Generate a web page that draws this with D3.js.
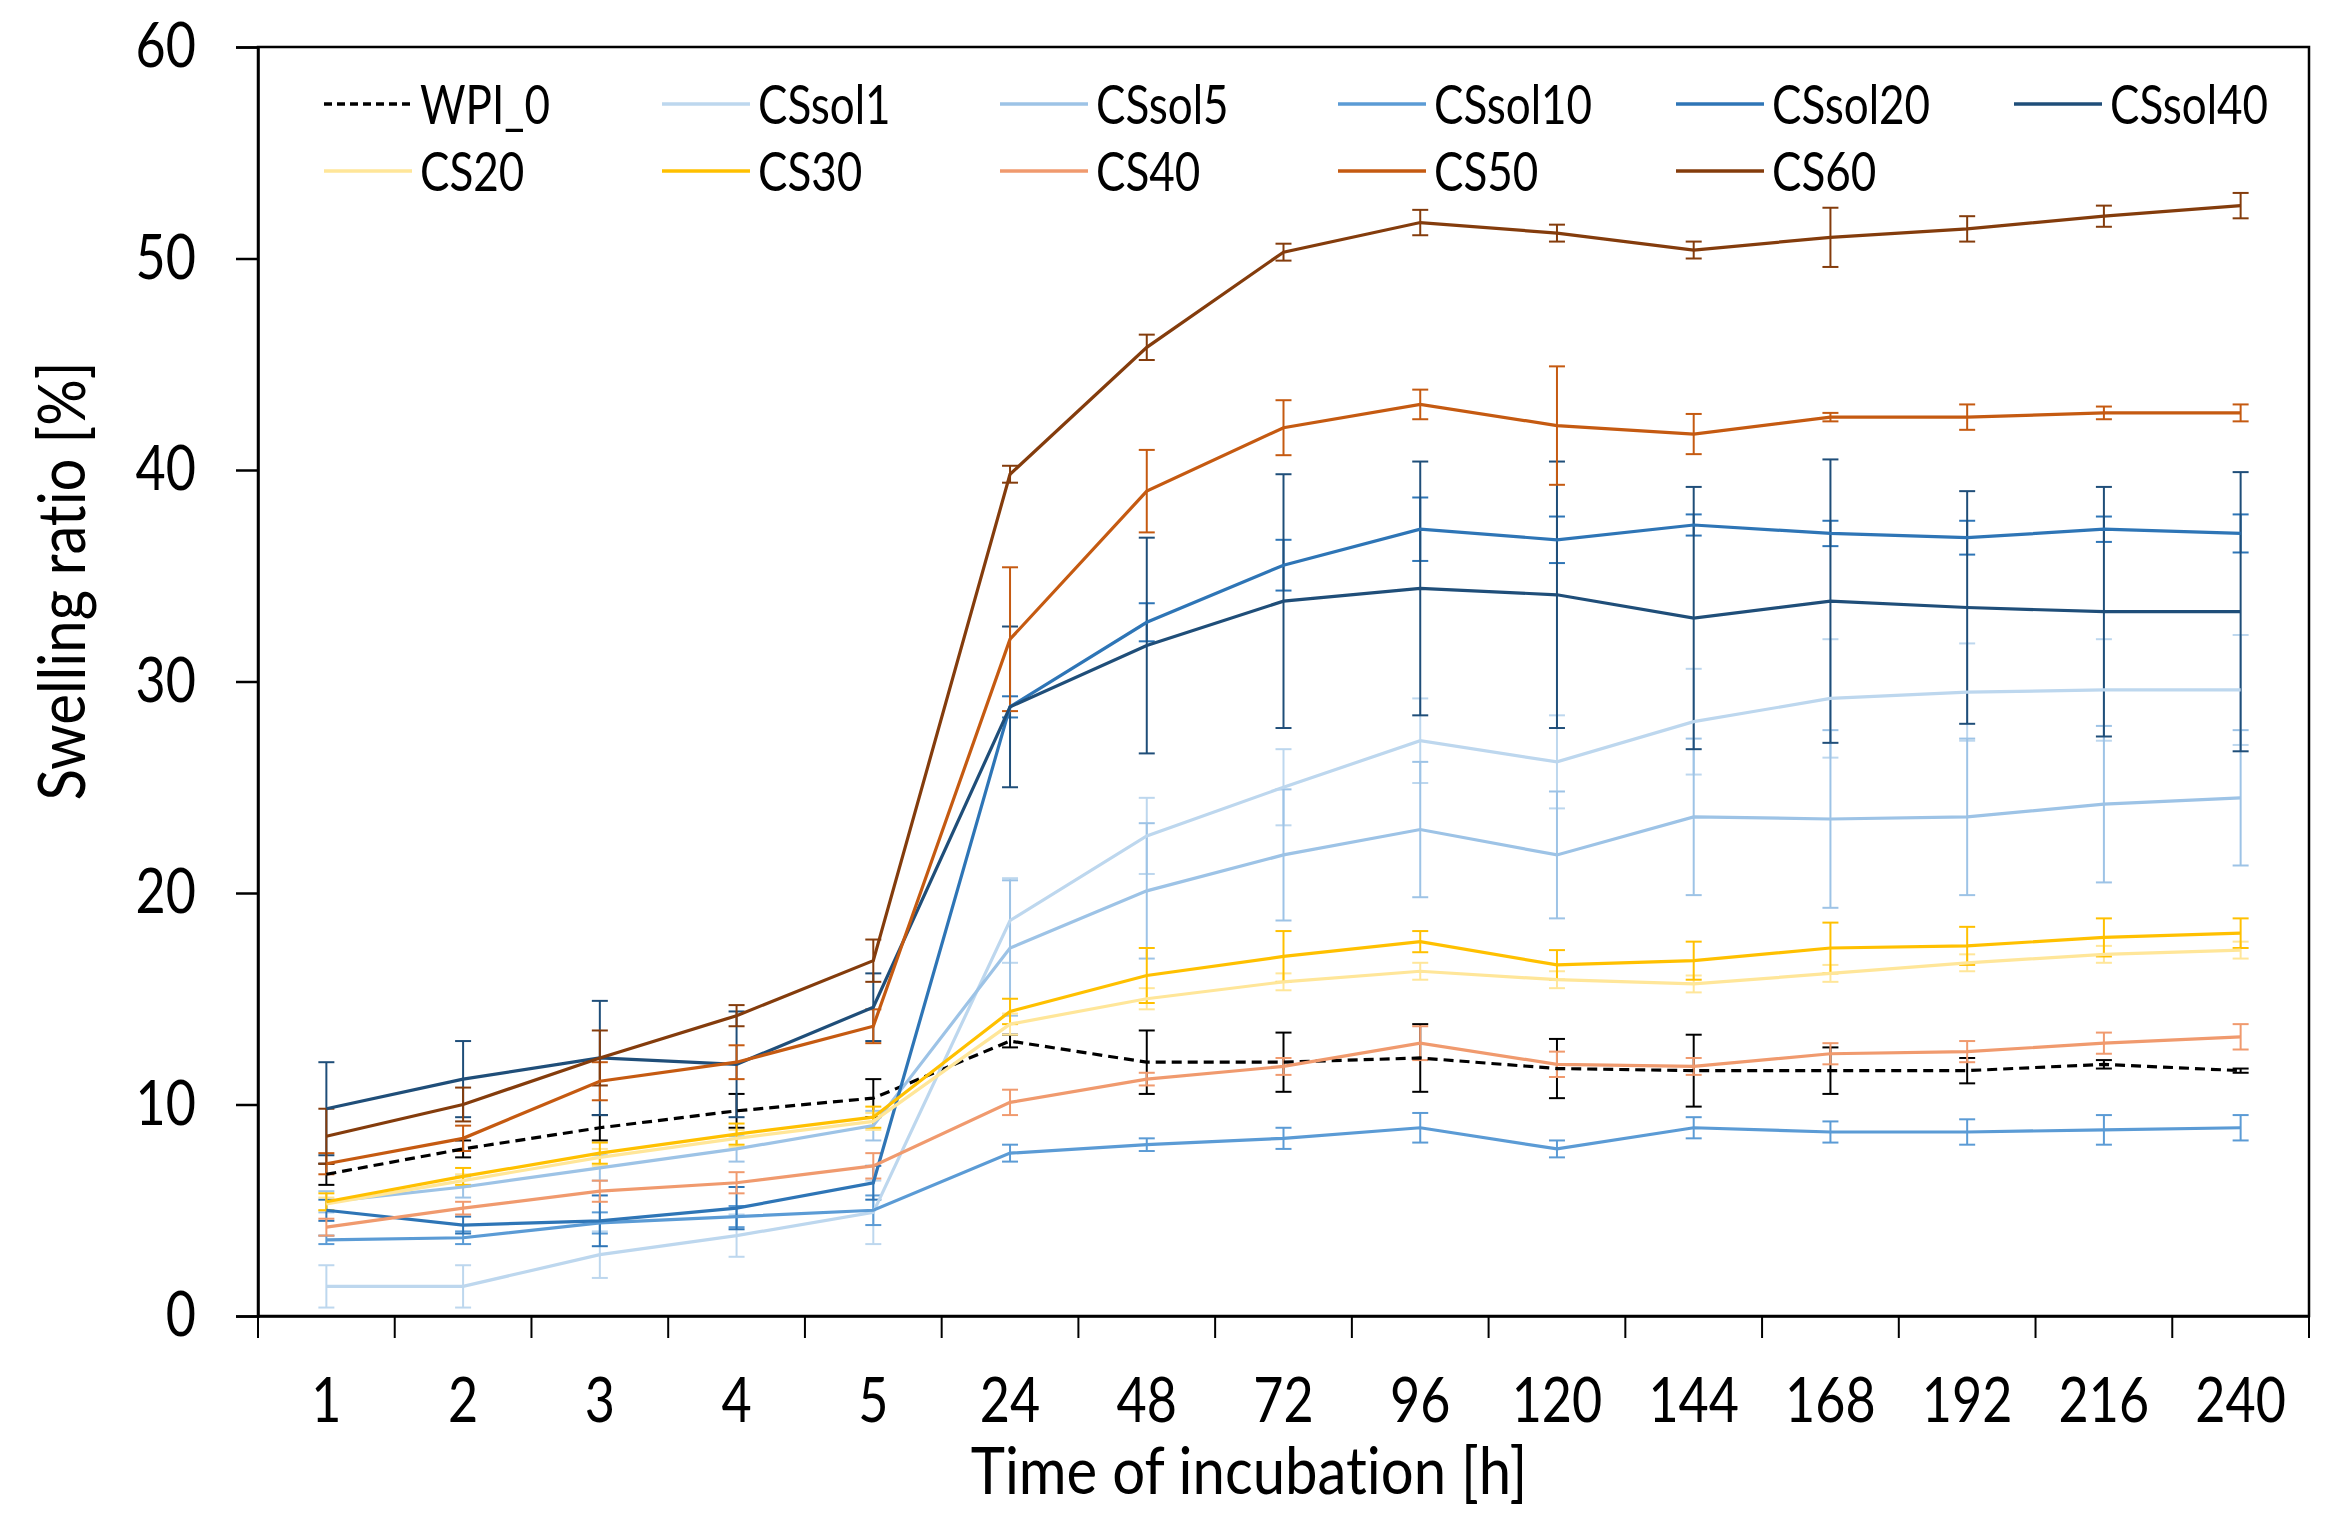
<!DOCTYPE html>
<html>
<head>
<meta charset="utf-8">
<script src="https://cdn.jsdelivr.net/npm/d3@7"></script>
<style>
  body { margin: 0; background: #fff; }
  text { font-family: Lato, "Open Sans", sans-serif; fill: #000; font-variant-ligatures: none; font-feature-settings: "liga" 0, "clig" 0; }
</style>
</head>
<body>
<div id="chart"></div>
<script>
// x categories (time of incubation, h)
const hours = ["1", "2", "3", "4", "5", "24", "48", "72", "96", "120", "144", "168", "192", "216", "240"];
const yTicks = [0, 10, 20, 30, 40, 50, 60];

// series values (swelling ratio %) and their error bars
const names = ["WPI_0", "CSsol1", "CSsol5", "CSsol10", "CSsol20", "CSsol40", "CS20", "CS30", "CS40", "CS50", "CS60"];

const wpi0 = [6.7, 7.9, 8.9, 9.7, 10.3, 13.0, 12.0, 12.0, 12.2, 11.7, 11.6, 11.6, 11.6, 11.9, 11.6];
const wpi0Err = [0.5, 0.4, 0.6, 0.8, 0.9, 0.3, 1.5, 1.4, 1.6, 1.4, 1.7, 1.1, 0.6, 0.2, 0.1];
const cssol1 = [1.4, 1.4, 2.9, 3.8, 4.9, 18.7, 22.7, 25.0, 27.2, 26.2, 28.1, 29.2, 29.5, 29.6, 29.6];
const cssol1Err = [1.0, 1.0, 1.1, 1.0, 1.5, 2.0, 1.8, 1.8, 2.0, 2.2, 2.5, 2.8, 2.3, 2.4, 2.6];
const cssol5 = [5.4, 6.1, 7.0, 7.9, 9.0, 17.4, 20.1, 21.8, 23.0, 21.8, 23.6, 23.5, 23.6, 24.2, 24.5];
const cssol5Err = [0.5, 0.5, 0.6, 0.6, 0.7, 3.2, 3.2, 3.1, 3.2, 3.0, 3.7, 4.2, 3.7, 3.7, 3.2];
const cssol10 = [3.6, 3.7, 4.4, 4.7, 5.0, 7.7, 8.1, 8.4, 8.9, 7.9, 8.9, 8.7, 8.7, 8.8, 8.9];
const cssol10Err = [0.2, 0.3, 0.5, 0.5, 0.7, 0.4, 0.3, 0.5, 0.7, 0.4, 0.5, 0.5, 0.6, 0.7, 0.6];
const cssol20 = [5.0, 4.3, 4.5, 5.1, 6.3, 28.8, 32.8, 35.5, 37.2, 36.7, 37.4, 37.0, 36.8, 37.2, 37.0];
const cssol20Err = [0.5, 0.4, 1.2, 1.0, 0.8, 0.5, 0.9, 1.2, 1.5, 1.1, 0.5, 0.6, 0.8, 0.6, 0.9];
const cssol40 = [9.8, 11.2, 12.2, 11.9, 14.6, 28.8, 31.7, 33.8, 34.4, 34.1, 33.0, 33.8, 33.5, 33.3, 33.3];
const cssol40Err = [2.2, 1.8, 2.7, 2.5, 1.6, 3.8, 5.1, 6.0, 6.0, 6.3, 6.2, 6.7, 5.5, 5.9, 6.6];
const cs20 = [5.3, 6.4, 7.5, 8.4, 9.2, 13.8, 15.0, 15.8, 16.3, 15.9, 15.7, 16.2, 16.7, 17.1, 17.3];
const cs20Err = [0.3, 0.3, 0.4, 0.4, 0.4, 0.5, 0.5, 0.4, 0.4, 0.4, 0.4, 0.4, 0.4, 0.4, 0.4];
const cs30 = [5.4, 6.6, 7.7, 8.6, 9.4, 14.4, 16.1, 17.0, 17.7, 16.6, 16.8, 17.4, 17.5, 17.9, 18.1];
const cs30Err = [0.4, 0.4, 0.5, 0.5, 0.5, 0.6, 1.3, 1.2, 0.5, 0.7, 0.9, 1.2, 0.9, 0.9, 0.7];
const cs40 = [4.2, 5.1, 5.9, 6.3, 7.1, 10.1, 11.2, 11.8, 12.9, 11.9, 11.8, 12.4, 12.5, 12.9, 13.2];
const cs40Err = [0.4, 0.3, 0.5, 0.5, 0.6, 0.6, 0.3, 0.4, 0.8, 0.6, 0.4, 0.5, 0.5, 0.5, 0.6];
const cs50 = [7.2, 8.4, 11.1, 12.0, 13.7, 32.0, 39.0, 42.0, 43.1, 42.1, 41.7, 42.5, 42.5, 42.7, 42.7];
const cs50Err = [0.5, 0.6, 0.9, 0.8, 0.8, 3.4, 1.95, 1.3, 0.7, 2.8, 0.95, 0.2, 0.6, 0.3, 0.4];
const cs60 = [8.5, 10.0, 12.2, 14.2, 16.8, 39.8, 45.8, 50.3, 51.7, 51.2, 50.4, 51.0, 51.4, 52.0, 52.5];
const cs60Err = [1.3, 0.8, 1.3, 0.5, 1.0, 0.4, 0.6, 0.4, 0.6, 0.4, 0.4, 1.4, 0.6, 0.5, 0.6];

const values = [wpi0, cssol1, cssol5, cssol10, cssol20, cssol40, cs20, cs30, cs40, cs50, cs60];
const errors = [wpi0Err, cssol1Err, cssol5Err, cssol10Err, cssol20Err, cssol40Err, cs20Err, cs30Err, cs40Err, cs50Err, cs60Err];
const colors = ["#000000", "#BDD7EE", "#9DC3E6", "#5B9BD5", "#2E75B6", "#1F4E79",
                "#FFE699", "#FFC000", "#F09A6E", "#C55A11", "#843C0C"];

const margin = {top: 47, right: 42, bottom: 210, left: 258},
      width = 2351 - margin.left - margin.right,
      height = 1526 - margin.top - margin.bottom;

// the original font is tall and narrow, squeeze glyphs horizontally
const squeeze = (sel, k) => sel.each(function() {
    const t = d3.select(this),
          x0 = +t.attr("x") || 0,
          base = t.attr("data-rot") || "";
    t.attr("x", x0 / k).attr("transform", `${base} scale(${k},1)`);
});

const svg = d3.select("#chart")
    .append("svg")
    .attr("width", 2351)
    .attr("height", 1526)
    .append("g")
    .attr("transform", `translate(${margin.left},${margin.top})`);

const x = d3.scaleBand()
    .domain(hours)
    .range([0, width]);

const y = d3.scaleLinear()
    .domain([0, 60])
    .range([height, 0]);

// plot frame
svg.append("rect")
    .attr("x", 0).attr("y", 0)
    .attr("width", width).attr("height", height)
    .attr("fill", "none")
    .attr("stroke", "#000")
    .attr("stroke-width", 2.5);

// y axis
const yAxis = svg.append("g")
    .call(d3.axisLeft(y).tickValues(yTicks).tickSize(22).tickPadding(40));
yAxis.select(".domain").attr("stroke-width", 2.5);
yAxis.selectAll(".tick line").attr("stroke-width", 2.5);
yAxis.selectAll("text").style("font-size", "62px").call(squeeze, 0.84);

// x axis: labels centred in bands, ticks on band edges
const xAxis = svg.append("g")
    .attr("transform", `translate(0,${height})`)
    .call(d3.axisBottom(x).tickSize(0).tickPadding(62));
xAxis.select(".domain").attr("stroke-width", 2.5);
xAxis.selectAll("text").style("font-size", "62px").call(squeeze, 0.84);

xAxis.selectAll(".edge")
    .data(hours.map(h => x(h)).concat([width]))
    .enter()
    .append("line")
    .attr("x1", d => d).attr("x2", d => d)
    .attr("y1", 0).attr("y2", 22)
    .attr("stroke", "#000")
    .attr("stroke-width", 2);

// axis titles
svg.append("text")
    .attr("data-rot", `translate(991,${height + 178})`)
    .attr("text-anchor", "middle")
    .style("font-size", "66px")
    .text("Time of incubation [h]")
    .call(squeeze, 0.88);

svg.append("text")
    .attr("data-rot", "translate(-173,534) rotate(-90)")
    .attr("text-anchor", "middle")
    .style("font-size", "66px")
    .text("Swelling ratio [%]")
    .call(squeeze, 0.88);

const cx = i => x(hours[i]) + x.bandwidth() / 2;

const line = d3.line()
    .x((d, i) => cx(i))
    .y(d => y(d));

// error bars first, lines on top
names.forEach((name, k) => {
    const g = svg.append("g");
    values[k].forEach((v, i) => {
        const e = errors[k][i];
        g.append("line")
            .attr("x1", cx(i)).attr("x2", cx(i))
            .attr("y1", y(v - e)).attr("y2", y(v + e))
            .attr("stroke", colors[k]).attr("stroke-width", 2);
        [v - e, v + e].forEach(t => {
            g.append("line")
                .attr("x1", cx(i) - 8).attr("x2", cx(i) + 8)
                .attr("y1", y(t)).attr("y2", y(t))
                .attr("stroke", colors[k]).attr("stroke-width", 2);
        });
    });
});

names.forEach((name, k) => {
    svg.append("path")
        .datum(values[k])
        .attr("fill", "none")
        .attr("stroke", colors[k])
        .attr("stroke-width", 3.2)
        .attr("stroke-dasharray", k === 0 ? "10,6" : null)
        .attr("d", line);
});

// legend, two rows of six columns
const legend = svg.append("g").attr("transform", "translate(66,57)");
names.forEach((name, k) => {
    const col = k < 6 ? k : k - 6,
          row = k < 6 ? 0 : 1,
          lx = col * 338,
          ly = row * 67;
    legend.append("line")
        .attr("x1", lx).attr("x2", lx + 88)
        .attr("y1", ly).attr("y2", ly)
        .attr("stroke", colors[k])
        .attr("stroke-width", 3.5)
        .attr("stroke-dasharray", k === 0 ? "8,5" : null);
    legend.append("text")
        .attr("data-rot", `translate(${lx + 96},${ly})`)
        .attr("dy", "0.36em")
        .style("font-size", "55px")
        .text(name)
        .call(squeeze, 0.8);
});
</script>
</body>
</html>
